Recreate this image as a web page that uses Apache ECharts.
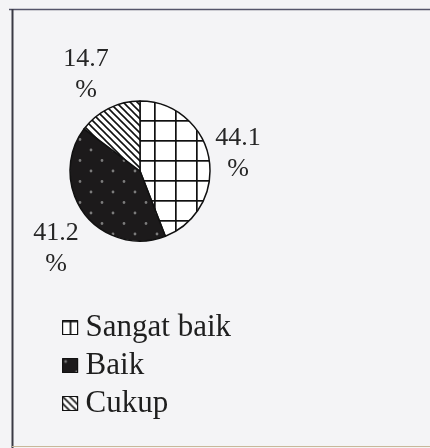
<!DOCTYPE html>
<html>
<head>
<meta charset="utf-8">
<script src="https://cdn.jsdelivr.net/npm/echarts@6/dist/echarts.min.js"></script>
<style>
html, body { margin: 0; padding: 0; background: #f4f4f6; }
#chart { width: 430px; height: 448px; }
</style>
</head>
<body>
<div id="chart"></div>
<script>
// kategori dan nilai (persen)
var categories = ['Sangat baik', 'Baik', 'Cukup'];
var values = [44.1, 41.2, 14.7];

// pola isi tiap irisan
function gridPattern() {
    var c = document.createElement('canvas');
    c.width = 21; c.height = 20;
    var ctx = c.getContext('2d');
    ctx.fillStyle = '#ffffff';
    ctx.fillRect(0, 0, 21, 20);
    ctx.fillStyle = '#111111';
    ctx.fillRect(0, 0, 21, 1.7);
    ctx.fillRect(7, 0, 1.7, 20);
    return c;
}
function dotPattern() {
    var c = document.createElement('canvas');
    c.width = 22; c.height = 21;
    var ctx = c.getContext('2d');
    ctx.fillStyle = '#1c1a1b';
    ctx.fillRect(0, 0, 22, 21);
    ctx.fillStyle = '#7c7c7c';
    ctx.beginPath();
    ctx.arc(3, 3, 1.4, 0, Math.PI * 2);
    ctx.arc(14, 13.5, 1.4, 0, Math.PI * 2);
    ctx.fill();
    return c;
}
function diagPattern() {
    var c = document.createElement('canvas');
    c.width = 7; c.height = 7;
    var ctx = c.getContext('2d');
    ctx.fillStyle = '#ffffff';
    ctx.fillRect(0, 0, 7, 7);
    ctx.strokeStyle = '#111111';
    ctx.lineWidth = 1.6;
    ctx.beginPath();
    ctx.moveTo(-2, -2); ctx.lineTo(9, 9);
    ctx.moveTo(-9, -2); ctx.lineTo(2, 9);
    ctx.moveTo(5, -2); ctx.lineTo(16, 9);
    ctx.stroke();
    return c;
}
var patterns = [gridPattern(), dotPattern(), diagPattern()];

var chart = echarts.init(document.getElementById('chart'), null, { renderer: 'canvas' });

var pieCenter = [140, 171];
// letak label relatif ke pusat pie
var labelOffsets = [[98, -17], [-84, 78], [-54, -96]];

var pieData = categories.map(function (name, i) {
    return {
        name: name,
        value: values[i],
        itemStyle: { color: { image: patterns[i], repeat: 'repeat' } }
    };
});

var option = {
    backgroundColor: '#f4f4f6',
    animation: false,
    graphic: [
        { type: 'line', shape: { x1: 9, y1: 9.5, x2: 430, y2: 9.5 }, style: { stroke: '#55556a', lineWidth: 1.5 } },
        { type: 'line', shape: { x1: 12.5, y1: 9, x2: 12.5, y2: 448 }, style: { stroke: '#3a3a44', lineWidth: 2 } },
        { type: 'line', shape: { x1: 12, y1: 446.5, x2: 430, y2: 446.5 }, style: { stroke: '#c8b89a', lineWidth: 1 } }
    ],
    legend: {
        orient: 'vertical',
        left: 57,
        top: 307,
        itemWidth: 15,
        itemHeight: 14,
        itemGap: 7,
        icon: 'rect',
        data: categories,
        itemStyle: { borderColor: '#111111', borderWidth: 1.2 },
        textStyle: {
            fontFamily: 'Liberation Serif',
            fontSize: 31,
            color: '#1e1e1e',
            padding: [0, 0, 0, 3]
        }
    },
    series: [
        {
            type: 'pie',
            radius: 70,
            center: pieCenter,
            startAngle: 90,
            clockwise: true,
            avoidLabelOverlap: false,
            itemStyle: { borderColor: '#111111', borderWidth: 1.5 },
            label: {
                show: true,
                position: 'outside',
                formatter: '{c}\n%',
                fontFamily: 'Liberation Serif',
                fontSize: 26,
                lineHeight: 31,
                color: '#262626'
            },
            labelLine: { show: false, length: 10, length2: 0 },
            labelLayout: function (params) {
                var off = labelOffsets[params.dataIndex];
                return {
                    x: pieCenter[0] + off[0],
                    y: pieCenter[1] + off[1],
                    align: 'center',
                    verticalAlign: 'middle'
                };
            },
            emphasis: { disabled: true },
            data: pieData
        }
    ]
};
chart.setOption(option);
</script>
</body>
</html>
